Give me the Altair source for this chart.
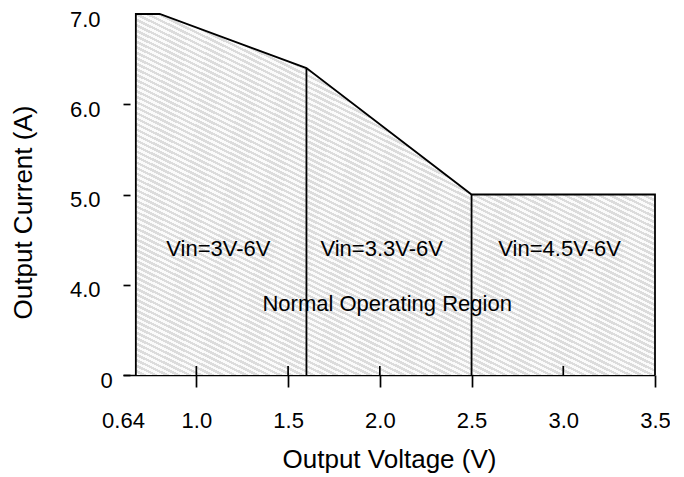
import altair as alt
import pandas as pd

# Upper boundary of the operating region (Output Voltage in V, Output Current in A)
bound_v = [0.67, 0.80, 1.6, 2.5, 3.5]
bound_i = [7.0, 7.0, 6.4, 5.0, 5.0]
# Outline (including the vertical end edges down to the axis break "0")
outline_v = [0.67, 0.67, 0.80, 1.6, 2.5, 3.5, 3.5]
outline_i = [3.0, 7.0, 7.0, 6.4, 5.0, 5.0, 3.0]
# Dividers between input-voltage ranges
div_v = [1.6, 2.5]
div_i = [6.4, 5.0]
# Annotations
ann_text = ["Vin=3V-6V", "Vin=3.3V-6V", "Vin=4.5V-6V", "Normal Operating Region"]
ann_v = [1.12, 2.01, 2.98, 2.04]
ann_i = [4.32, 4.32, 4.32, 3.71]
# Axis ticks (y value 3 is the broken-axis "0")
x_ticks = [0.6, 1.0, 1.5, 2.0, 2.5, 3.0, 3.5]
x_ticks_up = [1.0, 1.5, 2.0, 3.0]
y_ticks = [3, 4, 5, 6, 7]
BASE = 3.0

FONT = "Liberation Sans"

bound = pd.DataFrame({"v": bound_v, "i": bound_i, "b": BASE})
outline = pd.DataFrame({"v": outline_v, "i": outline_i, "k": list(range(len(outline_v)))})
divs = pd.DataFrame({"v": div_v, "i": div_i, "b": BASE})
anns = pd.DataFrame({"t": ann_text, "v": ann_v, "i": ann_i})
ups = pd.DataFrame({"v": x_ticks_up, "b": BASE, "t": BASE + 0.1})

xscale = alt.Scale(domain=[0.6, 3.5], nice=False, zero=False)
yscale = alt.Scale(domain=[3, 7], nice=False, zero=False)

xaxis = alt.Axis(
    values=x_ticks,
    labelExpr="datum.value < 0.7 ? '0.64' : format(datum.value, '.1f')",
    grid=False,
    domainColor="black", domainWidth=1.7,
    tickColor="black", tickWidth=1.7, tickSize=12,
    tickOpacity={"condition": {"test": "datum.value < 0.7 || datum.value == 3", "value": 0}, "value": 1},
    labelFont=FONT, labelFontSize=22, labelColor="black", labelPadding=23,
    labelFlush=False, labelOverlap=False,
    title="Output Voltage (V)", titleFont=FONT, titleFontSize=26,
    titleFontWeight="normal", titleColor="black", titlePadding=15,
)
yaxis = alt.Axis(
    values=y_ticks,
    labelExpr="datum.value == 3 ? '0' : format(datum.value, '.1f')",
    grid=False, domain=False, offset=-7,
    tickColor="black", tickWidth=1.7, tickSize=7,
    tickOpacity={"condition": {"test": "datum.value == 7", "value": 0}, "value": 1},
    labelFont=FONT, labelFontSize=22, labelColor="black", labelPadding=23,
    labelAlign={"condition": {"test": "datum.value == 3", "value": "left"}, "value": "right"},
    labelOffset=5,
    labelFlush=False, labelOverlap=False,
    title="Output Current (A)", titleFont=FONT, titleFontSize=26,
    titleFontWeight="normal", titleColor="black", titlePadding=33,
    titleY=198,
)

X = alt.X("v:Q", scale=xscale, axis=xaxis)
def Y(field):
    return alt.Y(field, scale=yscale, axis=yaxis)

# hatch-like fill: fine diagonal light grey stripes
n = 140
stops = []
for k in range(n):
    a = k / n
    b = (k + 0.5) / n
    c = (k + 1) / n
    stops += [
        {"offset": a, "color": "#fbfbfb"},
        {"offset": b, "color": "#fbfbfb"},
        {"offset": b, "color": "#dcdcdc"},
        {"offset": c, "color": "#dcdcdc"},
    ]
hatch = {"gradient": "linear", "x1": 0, "y1": 1, "x2": 1, "y2": -0.43, "stops": stops}

area = alt.Chart(bound).mark_area(color=hatch, line=False).encode(
    x=X, y=Y("i:Q"), y2="b:Q",
)

line = alt.Chart(outline).mark_line(color="black", strokeWidth=1.8).encode(
    x=X, y=Y("i:Q"), order="k:Q",
)

rules = alt.Chart(divs).mark_rule(color="black", strokeWidth=1.8).encode(
    x=X, y=Y("b:Q"), y2="i:Q",
)

up_ticks = alt.Chart(ups).mark_rule(color="black", strokeWidth=1.7).encode(
    x=X, y=Y("b:Q"), y2="t:Q",
)

text = alt.Chart(anns).mark_text(
    font=FONT, fontSize=22, color="black", align="center", baseline="alphabetic"
).encode(
    x=X, y=Y("i:Q"), text="t:N",
)

chart = alt.layer(area, line, rules, up_ticks, text).properties(
    width=532,
    height=361,
    background="white",
    autosize=alt.AutoSizeParams(type="none"),
    padding={"left": 115, "top": 6, "right": 15, "bottom": 100},
).configure_view(stroke=None)

chart.save("out.html", embed_options={"renderer": "svg", "actions": False})
